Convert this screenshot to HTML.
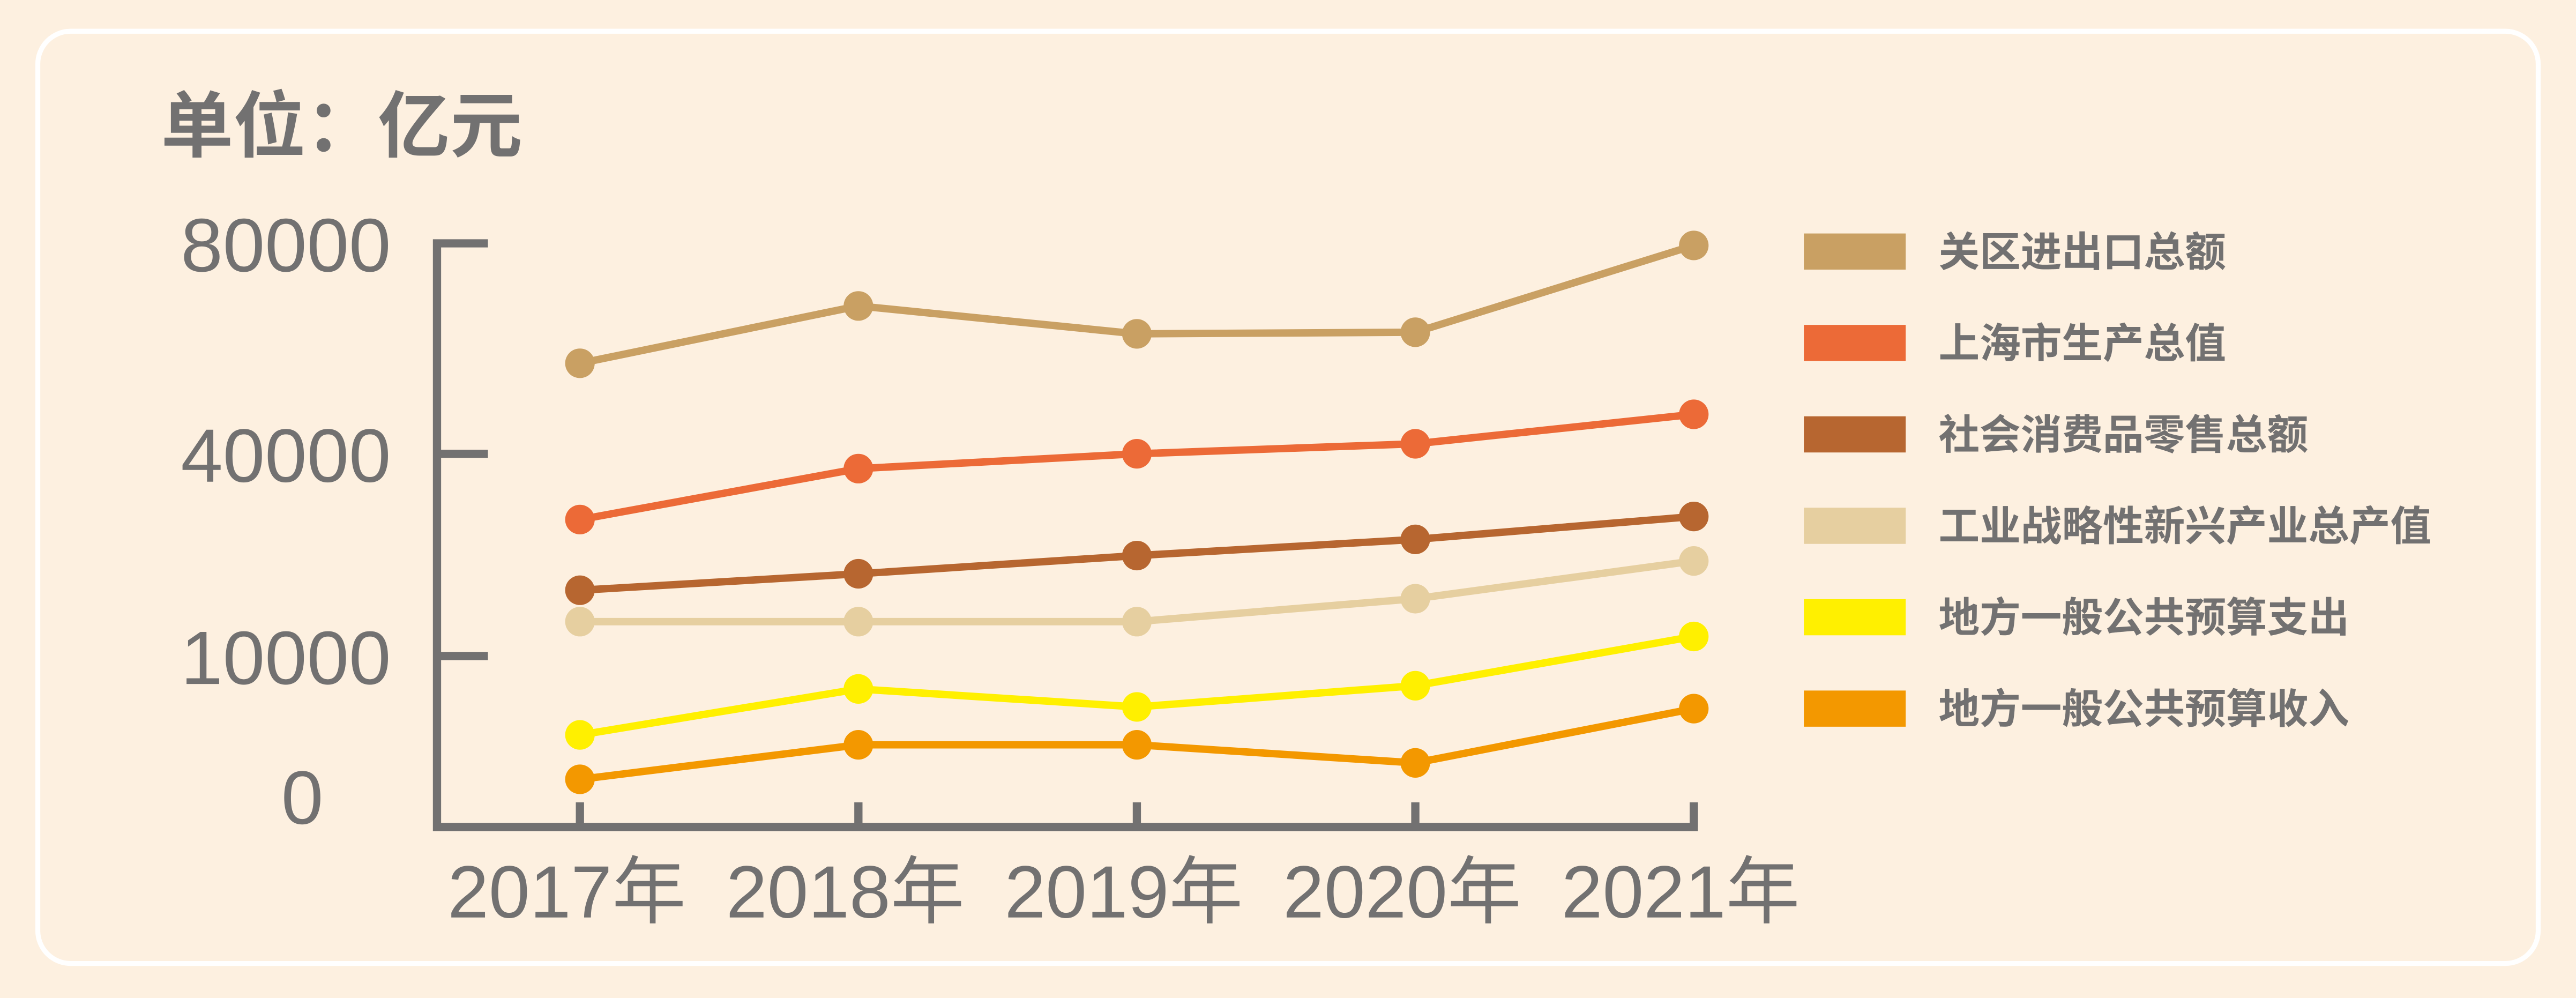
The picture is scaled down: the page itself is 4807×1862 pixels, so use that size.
<!DOCTYPE html>
<html><head><meta charset="utf-8"><style>
html,body{margin:0;padding:0;background:#fdf0e0;}
svg{display:block;font-family:"Liberation Sans","Noto Sans CJK SC",sans-serif;}
</style></head><body>
<svg id="chart" width="4807" height="1862" viewBox="0 0 1568 607" preserveAspectRatio="none" xmlns="http://www.w3.org/2000/svg">
<rect x="0" y="0" width="1568" height="607" rx="18" fill="#fdf0e0"/>
<rect x="23" y="19" width="1522" height="567" rx="20" fill="none" stroke="#ffffff" stroke-width="3"/>
<text x="98" y="92" font-size="44" font-weight="bold" fill="#727171">单位：亿元</text>
<g id="axes"></g>
<g id="series"></g>
<g id="legend"></g>
</svg>
<script>
const categories = ["2017年","2018年","2019年","2020年","2021年"];
const seriesNames = ["关区进出口总额","上海市生产总值","社会消费品零售总额","工业战略性新兴产业总产值","地方一般公共预算支出","地方一般公共预算收入"];
const s1 = [57200,68100,62800,63100,79600];
const s2 = [30240,37800,40000,41900,47500];
const s3 = [19760,22200,24900,27300,30700];
const s4 = [15100,15100,15100,18500,24100];
const s5 = [4420,7670,6400,7900,12900];
const s6 = [1280,3720,3720,2440,6280];
const yTicks = [0,10000,40000,80000];
const yTickLabels = ["0","10000","40000","80000"];
const colors = ["#c9a063","#ec6a37","#b76630","#e6cfa0","#fff000","#f39800"];
const allSeries = [s1,s2,s3,s4,s5,s6];
const NS="http://www.w3.org/2000/svg";
const yPix=[485,399,276,148];
function yScale(v){
  for(let i=0;i<yTicks.length-1;i++){
    if(v<=yTicks[i+1]||i===yTicks.length-2){
      const t=(v-yTicks[i])/(yTicks[i+1]-yTicks[i]);
      return yPix[i]+t*(yPix[i+1]-yPix[i]);
    }
  }
}
function xScale(i){return 353+i*(1031-353)/(categories.length-1);}
function mk(tag,attrs,parent){const e=document.createElementNS(NS,tag);for(const k in attrs)e.setAttribute(k,attrs[k]);parent.appendChild(e);return e;}
const axes=document.getElementById('axes');
const yAxis=mk('path',{d:'M297 148 H266 V503 H1031 V488',fill:'none',stroke:'#727171','stroke-width':5},axes);


yTicks.forEach((v,i)=>{
  if(v>0&&v<80000){const t=mk('line',{x1:266,x2:297,y1:yScale(v),y2:yScale(v),stroke:'#727171','stroke-width':5},axes);
  
  }
  const lab=mk('text',{x:v===0?184:174,y:yScale(v)+(v===0?16:17),'font-size':46,fill:'#727171','text-anchor':'middle'},axes);
  lab.textContent=yTickLabels[i];
  
  
});
categories.forEach((c,i)=>{
  const x=xScale(i);
  const t=mk('line',{x1:x,x2:x,y1:503,y2:488,stroke:'#727171','stroke-width':5},axes);
  
  
  const lab=mk('text',{x:x-8,y:558,'font-size':45,fill:'#727171','text-anchor':'middle'},axes);
  lab.textContent=c;
  
  
});
const sg=document.getElementById('series');
allSeries.forEach((s,k)=>{
  const g=mk('g',{},sg);
  
  
  const pl=mk('polyline',{points:s.map((v,i)=>xScale(i)+','+yScale(v)).join(' '),fill:'none',stroke:colors[k],'stroke-width':4.5},g);
  
  
  s.forEach((v,i)=>{
    const c=mk('circle',{cx:xScale(i),cy:yScale(v),r:9,fill:colors[k]},g);
    
    
  });
});
const lg=document.getElementById('legend');
seriesNames.forEach((n,k)=>{
  const cy=153+k*55.6;
  const g=mk('g',{},lg);
  
  
  const r=mk('rect',{x:1098,y:cy-11,width:62,height:22,fill:colors[k]},g);
  
  
  const t=mk('text',{x:1180,y:cy+9,'font-size':25,'font-weight':'bold',fill:'#727171'},g);
  t.textContent=n;
  
  
});
</script>
</body></html>
